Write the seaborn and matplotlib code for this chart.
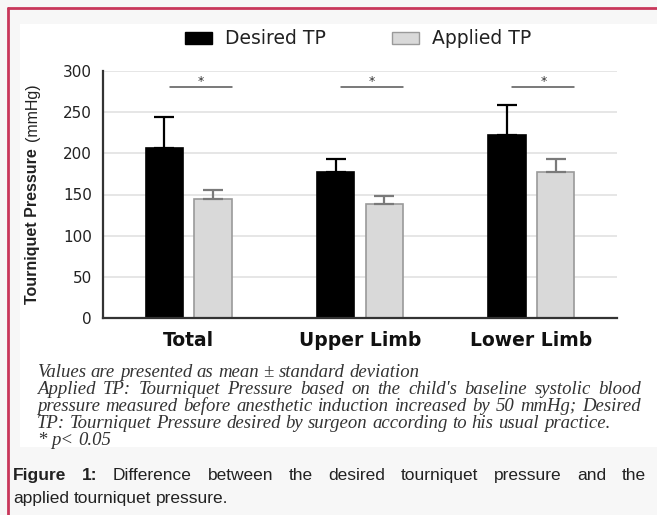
import matplotlib
matplotlib.use("Agg")
import matplotlib.pyplot as plt
import seaborn as sns
import pandas as pd
from matplotlib.patches import Rectangle
from matplotlib.lines import Line2D

# données (moyenne ± écart-type, mmHg)
regions = ["Total", "Upper Limb", "Lower Limb"]
groupes = ["Desired TP", "Applied TP"]
desired_mean = [207, 177, 222]
desired_sd = [37, 16, 37]
applied_mean = [145, 139, 177]
applied_sd = [11, 9, 16]
sig_y = 280
y_ticks = [0, 50, 100, 150, 200, 250, 300]

notes = [
    ("Values are presented as mean ± standard deviation", False),
    ("Applied TP: Tourniquet Pressure based on the child's baseline systolic blood", True),
    ("pressure measured before anesthetic induction increased by 50 mmHg; Desired", True),
    ("TP: Tourniquet Pressure desired by surgeon according to his usual practice.", False),
    ("* p< 0.05", False),
]
caption_bold = "Figure 1:"
caption_l1 = "Difference between the desired tourniquet pressure and the"
caption_l2 = "applied tourniquet pressure."

NOIR = "black"
GRIS = "#d9d9d9"
BORD_GRIS = "#9a9a9a"
CRAMOISI = "#c8375a"

sns.set_style("white")
plt.rcParams["font.family"] = ["DejaVu Sans"]

W, H = 657, 515
fig = plt.figure(figsize=(W / 100, H / 100), dpi=100, facecolor="#f7f7f7")


def fx(px):
    return px / W


def fy(py):
    return 1 - py / H


# fond blanc + cadre
fig.patches.append(Rectangle((fx(20), fy(447)), 1 - fx(20), fy(24) - fy(447),
                             transform=fig.transFigure, facecolor="white",
                             edgecolor="none", zorder=-5))
fig.add_artist(Line2D([fx(8), fx(8)], [0, fy(8)], color=CRAMOISI, lw=2,
                      transform=fig.transFigure))
fig.add_artist(Line2D([fx(8), 1], [fy(8), fy(8)], color=CRAMOISI, lw=2,
                      transform=fig.transFigure))

ax = fig.add_axes([fx(103), fy(318), fx(617) - fx(103), fy(71) - fy(318)])
ax.set_facecolor("white")

df = pd.DataFrame({
    "region": regions * 2,
    "groupe": [groupes[0]] * 3 + [groupes[1]] * 3,
    "pression": desired_mean + applied_mean,
})

sns.barplot(data=df, x="region", y="pression", hue="groupe", hue_order=groupes,
            palette=[NOIR, GRIS], saturation=1, width=0.565, gap=0.23,
            errorbar=None, ax=ax)

bar_conts = list(ax.containers)
for cont, ec in zip(bar_conts, [NOIR, BORD_GRIS]):
    for p in cont:
        p.set_edgecolor(ec)
        p.set_linewidth(1.2)

# barres d'erreur (vers le haut seulement)
for cont, sds, col in zip(bar_conts, [desired_sd, applied_sd], [NOIR, "#7a7a7a"]):
    xs = [p.get_x() + p.get_width() / 2 for p in cont]
    hs = [p.get_height() for p in cont]
    ax.errorbar(xs, hs, yerr=[[0] * len(sds), sds], fmt="none", ecolor=col,
                elinewidth=1.6, capsize=7, capthick=1.6, zorder=3)

# significativité
for i in range(len(regions)):
    c = i + 0.07
    ax.plot([c - 0.18, c + 0.18], [sig_y, sig_y], color="#555555", lw=1.1)
    ax.text(c, sig_y + 3, "*", ha="center", va="baseline", fontsize=9, color="#333333")

ax.set_ylim(0, 300)
ax.set_xlim(-0.5, 2.5)
ax.set_yticks(y_ticks)
ax.set_xlabel("")
ax.set_ylabel("")
sns.despine(ax=ax)
for s in ["left", "bottom"]:
    ax.spines[s].set_color("#333333")
    ax.spines[s].set_linewidth(1.6)
ax.yaxis.grid(True, color="#e2e2e2", lw=1.2)
ax.set_axisbelow(True)
ax.tick_params(axis="y", length=5, width=1.4, color="#333333", labelsize=11,
               labelcolor="#222222", pad=3)
ax.tick_params(axis="x", length=0, pad=9)
for lab in ax.get_xticklabels():
    lab.set_fontweight("bold")
    lab.set_fontsize(13.5)
    lab.set_color("#111111")

# titre de l'axe y : partie grasse + unité
fig.text(fx(37), fy(226), "Tourniquet Pressure", rotation=90, rotation_mode="anchor",
         ha="center", va="baseline", fontsize=11.5, fontweight="bold",
         family="Liberation Sans", color="#222222")
fig.text(fx(37), fy(112), "(mmHg)", rotation=90, rotation_mode="anchor",
         ha="center", va="baseline", fontsize=11.5, family="Liberation Sans",
         color="#222222")

# légende
sns.move_legend(ax, "center", bbox_to_anchor=(fx(358), fy(39)),
                bbox_transform=fig.transFigure, ncol=2, title=None, frameon=False,
                fontsize=13.5, handlelength=1.45, handleheight=0.55,
                handletextpad=0.7, columnspacing=3.5)
leg = ax.get_legend()
for h, ec in zip(leg.legend_handles, [NOIR, BORD_GRIS]):
    h.set_edgecolor(ec)
    h.set_linewidth(1)
for t in leg.get_texts():
    t.set_color("#222222")

renderer = fig.canvas.get_renderer()


def draw_line(words, x0, x1, y, justify, **kw):
    arts = [fig.text(0, fy(y), w, va="baseline", fontweight=wt, **kw) for w, wt in words]
    widths = [a.get_window_extent(renderer).width for a in arts]
    if justify and len(arts) > 1:
        space = (x1 - x0 - sum(widths)) / (len(arts) - 1)
    else:
        a1 = fig.text(0, 0, "a a", **kw)
        a2 = fig.text(0, 0, "aa", **kw)
        space = a1.get_window_extent(renderer).width - a2.get_window_extent(renderer).width
        a1.remove()
        a2.remove()
    x = x0
    for a, w in zip(arts, widths):
        a.set_x(fx(x))
        x += w + space


note_kw = dict(family="Liberation Serif", style="italic", fontsize=13.5, color="#333333")
for k, (ligne, just) in enumerate(notes):
    mots = [(m, "normal") for m in ligne.split(" ")]
    draw_line(mots, 37, 641, 377 + 17 * k, just, **note_kw)

cap_kw = dict(family="Liberation Sans", fontsize=12.5, color="#222222")
mots = [(m, "bold") for m in caption_bold.split(" ")] + \
       [(m, "normal") for m in caption_l1.split(" ")]
draw_line(mots, 13, 646, 480, True, **cap_kw)
draw_line([(m, "normal") for m in caption_l2.split(" ")], 13, 646, 503, False, **cap_kw)

fig.savefig("out.png", dpi=100, facecolor=fig.get_facecolor())
